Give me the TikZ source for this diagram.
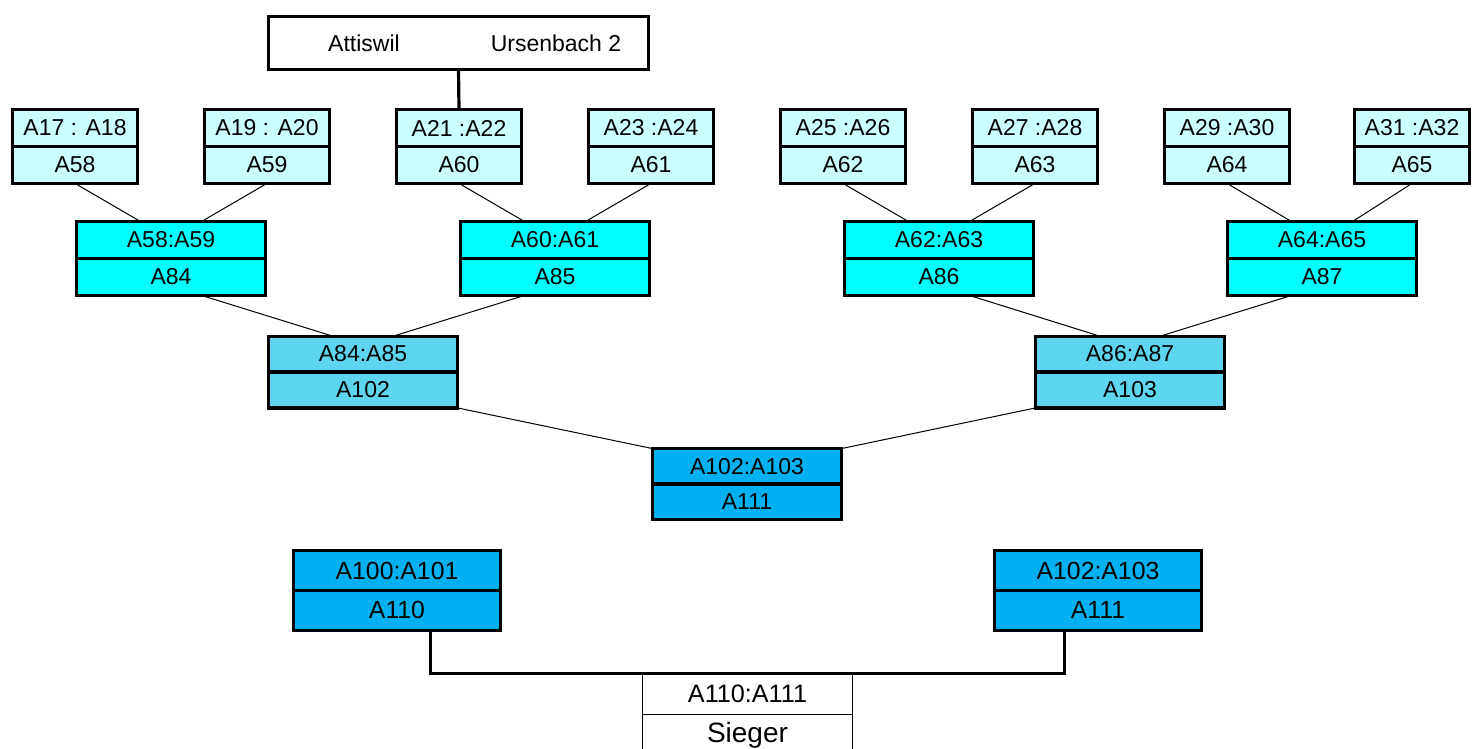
\documentclass[tikz,border=0pt]{standalone}
\usepackage{fontspec}
\setmainfont{Liberation Sans}
\usepackage{tikz}
\usetikzlibrary{shapes}
\usetikzlibrary{positioning}
\usepackage{xcolor}
\definecolor{hellcyan}{HTML}{CCFFFF}
\definecolor{vollcyan}{HTML}{00FFFF}
\definecolor{himmel}{HTML}{5DD5F0}
\definecolor{tiefblau}{HTML}{00B0F0}

\begin{document}
\begin{tikzpicture}[x=0.5pt,y=-0.5pt,
  feld/.style={draw,line width=1.6pt,inner sep=0pt,outer sep=0pt,minimum width=94.4pt,minimum height=18.45pt,font=\fontsize{11.5}{13}\selectfont},
  runde1/.style={feld,fill=hellcyan,minimum width=62.4pt},
  runde2/.style={feld,fill=vollcyan},
  runde3/.style={feld,fill=himmel,minimum height=17.95pt},
  runde4/.style={feld,fill=tiefblau,minimum height=17.7pt},
  final/.style={feld,fill=tiefblau,minimum width=103.4pt,minimum height=19.95pt,font=\fontsize{12.4}{14}\selectfont},
  sieg/.style={draw,line width=0.7pt,inner sep=0pt,outer sep=0pt,minimum width=104.8pt,minimum height=20.6pt,font=\fontsize{12.6}{14}\selectfont},
  linie/.style={line width=0.5pt},
  balken/.style={line width=1.6pt}]
\useasboundingbox (0,0) rectangle (1474,749);
% Kopf
\node[draw,line width=1.6pt,outer sep=0pt,minimum width=189.9pt,minimum height=26.4pt] (kopf) at (458.5,43) {};
\node[font=\fontsize{11.5}{13}\selectfont] (heim) at (364,43) {Attiswil};
\node[font=\fontsize{11.5}{13}\selectfont] (gast) at (556,43) {Ursenbach 2};
% Runde 1
\node[runde1,anchor=north] (a1o) at (75,109.6) {A17 : A18};
\node[runde1,below=0pt of a1o] (a1u) {A58};
\node[runde1,anchor=north] (a2o) at (267,109.6) {A19 : A20};
\node[runde1,below=0pt of a2o] (a2u) {A59};
\node[runde1,anchor=north] (a3o) at (459,109.6) {A21 :A22};
\node[runde1,below=0pt of a3o] (a3u) {A60};
\node[runde1,anchor=north] (a4o) at (651,109.6) {A23 :A24};
\node[runde1,below=0pt of a4o] (a4u) {A61};
\node[runde1,anchor=north] (a5o) at (843,109.6) {A25 :A26};
\node[runde1,below=0pt of a5o] (a5u) {A62};
\node[runde1,anchor=north] (a6o) at (1035,109.6) {A27 :A28};
\node[runde1,below=0pt of a6o] (a6u) {A63};
\node[runde1,anchor=north] (a7o) at (1227,109.6) {A29 :A30};
\node[runde1,below=0pt of a7o] (a7u) {A64};
\node[runde1,minimum width=57.4pt,anchor=north] (a8o) at (1412,109.6) {A31 :A32};
\node[runde1,minimum width=57.4pt,below=0pt of a8o] (a8u) {A65};
% Runde 2
\node[runde2,anchor=north] (b1o) at (171,221.6) {A58:A59};
\node[runde2,below=0pt of b1o] (b1u) {A84};
\node[runde2,anchor=north] (b2o) at (555,221.6) {A60:A61};
\node[runde2,below=0pt of b2o] (b2u) {A85};
\node[runde2,anchor=north] (b3o) at (939,221.6) {A62:A63};
\node[runde2,below=0pt of b3o] (b3u) {A86};
\node[runde2,anchor=north] (b4o) at (1322,221.6) {A64:A65};
\node[runde2,below=0pt of b4o] (b4u) {A87};
% Runde 3
\node[runde3,anchor=north] (c1o) at (363,336.1) {A84:A85};
\node[runde3,below=0pt of c1o] (c1u) {A102};
\node[runde3,anchor=north] (c2o) at (1130,336.1) {A86:A87};
\node[runde3,below=0pt of c2o] (c2u) {A103};
% Runde 4
\node[runde4,anchor=north] (do) at (747,448.6) {A102:A103};
\node[runde4,below=0pt of do] (du) {A111};
% Final
\node[final,anchor=north] (e1o) at (397,550.6) {A100:A101};
\node[final,below=0pt of e1o] (e1u) {A110};
\node[final,anchor=north] (e2o) at (1098,550.6) {A102:A103};
\node[final,below=0pt of e2o] (e2u) {A111};
\node[sieg,anchor=north] (so) at (747.5,673.5) {A110:A111};
\node[sieg,below=0pt of so,font=\fontsize{14}{16}\selectfont] (su) {Sieger};
% Linien
\draw[balken] (kopf.south) -- (a3o.north);
\draw[linie] (a1u.south) -- ([xshift=32pt]b1o.north west);
\draw[linie] (a2u.south) -- ([xshift=-32pt]b1o.north east);
\draw[linie] (a3u.south) -- ([xshift=32pt]b2o.north west);
\draw[linie] (a4u.south) -- ([xshift=-32pt]b2o.north east);
\draw[linie] (a5u.south) -- ([xshift=32pt]b3o.north west);
\draw[linie] (a6u.south) -- ([xshift=-32pt]b3o.north east);
\draw[linie] (a7u.south) -- ([xshift=32pt]b4o.north west);
\draw[linie] (a8u.south) -- ([xshift=-32pt]b4o.north east);
\draw[linie] ([xshift=-32pt]b1u.south east) -- ([xshift=32pt]c1o.north west);
\draw[linie] ([xshift=32pt]b2u.south west) -- ([xshift=-32pt]c1o.north east);
\draw[linie] ([xshift=-32pt]b3u.south east) -- ([xshift=32pt]c2o.north west);
\draw[linie] ([xshift=32pt]b4u.south west) -- ([xshift=-32pt]c2o.north east);
\draw[linie] (c1u.south east) -- (do.north west);
\draw[linie] (c2u.south west) -- (do.north east);
\draw[balken] ([xshift=-35pt]e1u.south east) |- (so.north) -| ([xshift=35pt]e2u.south west);
\end{tikzpicture}
\end{document}
